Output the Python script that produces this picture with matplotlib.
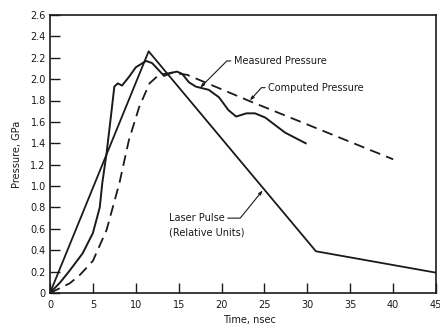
#!/usr/bin/env python3
import matplotlib

matplotlib.use("Agg")
import matplotlib.pyplot as plt

# values
laser_t = [0, 11.5, 31, 45]
laser_p = [0, 2.26, 0.39, 0.19]

measured_t = [0, 1.2, 2.3, 3.8, 5, 5.8, 6.1, 6.6, 7.1, 7.5, 7.9, 8.4, 9.2, 10, 11.2,
              11.9, 13.3, 14.2, 14.8, 15.4, 16.2, 17, 18.5, 19.7, 20.8, 21.7, 22.9,
              23.9, 25.1, 27.4, 29.8]
measured_p = [0, 0.10, 0.21, 0.37, 0.56, 0.80, 1.03, 1.31, 1.65, 1.93, 1.96, 1.94, 2.02,
              2.11, 2.17, 2.15, 2.03, 2.06, 2.07, 2.05, 1.97, 1.93, 1.90, 1.83, 1.71,
              1.65, 1.68, 1.68, 1.64, 1.50, 1.40]

computed_t = [0, 2.3, 3.5, 5, 6.6, 8.1, 9.2, 10.4, 11.6, 12.7, 14.2, 16, 23.1, 40]
computed_p = [0, 0.09, 0.17, 0.30, 0.59, 1.03, 1.43, 1.74, 1.96, 2.04, 2.06, 2.04, 1.80, 1.25]

x_ticks = [0, 5, 10, 15, 20, 25, 30, 35, 40, 45]
y_ticks = [0, 0.2, 0.4, 0.6, 0.8, 1.0, 1.2, 1.4, 1.6, 1.8, 2.0, 2.2, 2.4, 2.6]

ink = "#1a1a1a"
plt.rcParams["font.family"] = "DejaVu Sans"
plt.rcParams["font.size"] = 7

fig = plt.figure(figsize=(4.4, 3.25), dpi=100)
ax = fig.add_axes([0.1136, 0.0985, 0.8774, 0.8555])

ax.plot(laser_t, laser_p, color=ink, lw=1.3)
ax.plot(measured_t, measured_p, color=ink, lw=1.4)
ax.plot(computed_t, computed_p, color=ink, lw=1.3, dashes=(6, 3.5))

ax.set_xlim(0, 45)
ax.set_ylim(0, 2.6)
ax.set_xticks(x_ticks)
ax.set_xticklabels([str(t) for t in x_ticks])
ax.set_yticks(y_ticks)
ax.set_yticklabels(["0"] + [f"{v:.1f}" for v in y_ticks[1:]])
ax.tick_params(direction="in", length=7, width=1.0, colors=ink, labelsize=7)
ax.tick_params(axis="x", pad=5)
ax.tick_params(axis="y", pad=3)
for spine in ax.spines.values():
    spine.set_color(ink)
    spine.set_linewidth(1.2)

ax.set_ylabel("Pressure, GPa", fontsize=7, color=ink, labelpad=6)
ax.set_xlabel("Time, nsec", fontsize=7, color=ink)
ax.xaxis.set_label_coords(0.518, -0.08)

arrow = dict(arrowstyle="-|>,head_length=0.35,head_width=0.12", color=ink, lw=0.8,
             shrinkA=0, shrinkB=0)
ax.annotate("Measured Pressure", xy=(17.5, 1.92), xytext=(21.4, 2.17),
            va="center", ha="left", color=ink,
            arrowprops=dict(arrow, relpos=(0, 0.5),
                            connectionstyle="angle,angleA=0,angleB=45,rad=0"))
ax.annotate("Computed Pressure", xy=(23.3, 1.80), xytext=(25.4, 1.92),
            va="center", ha="left", color=ink,
            arrowprops=dict(arrow, relpos=(0, 0.5),
                            connectionstyle="angle,angleA=0,angleB=48,rad=0"))
ax.annotate("Laser Pulse", xy=(24.8, 0.96), xytext=(13.9, 0.70),
            va="center", ha="left", color=ink,
            arrowprops=dict(arrow, relpos=(1, 0.5),
                            connectionstyle="angle,angleA=0,angleB=51,rad=0"))
ax.text(13.9, 0.57, "(Relative Units)", va="center", ha="left", color=ink)

fig.savefig("out.png", dpi=100)
